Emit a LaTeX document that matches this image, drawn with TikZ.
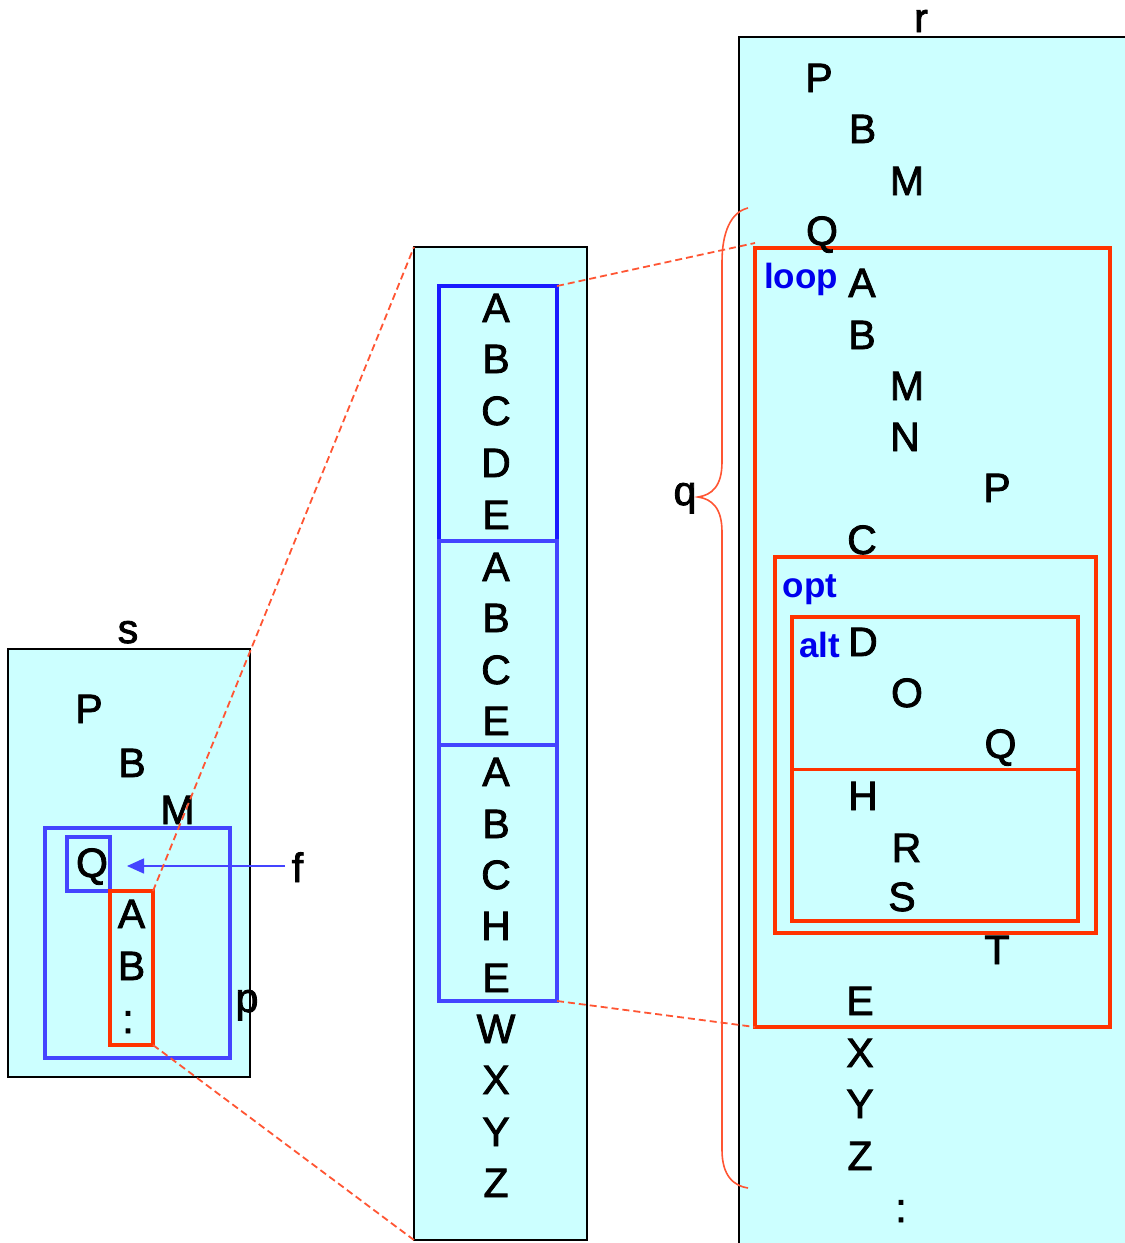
\documentclass[tikz,border=0pt]{standalone}
\usepackage{fontspec}
\setmainfont{Liberation Sans}
\newfontfamily\letterfont[FakeBold=2]{Liberation Sans}
\usetikzlibrary{arrows.meta}
\definecolor{cyanfill}{HTML}{CCFFFF}
\definecolor{redbox}{HTML}{FF3300}
\definecolor{dashred}{HTML}{FF5533}
\definecolor{blueA}{HTML}{1A1AFF}
\definecolor{blueB}{HTML}{4444FF}
\definecolor{labblue}{HTML}{0000EE}
\tikzset{
  letter/.style={anchor=base, inner sep=0pt, font=\letterfont\fontsize{41}{46}\selectfont},
  lab/.style={anchor=base, inner sep=0pt, font=\fontsize{35}{40}\selectfont\bfseries, text=labblue},
  rect/.style={inner sep=0pt, outer sep=0pt},
  lifebox/.style={rect, draw=black, fill=cyanfill, line width=2.5pt},
  bluebox/.style={rect, draw=blueB, line width=3.5pt},
  redframe/.style={rect, draw=redbox, line width=3.8pt},
  zoomline/.style={draw=dashred, line width=1.8pt, dash pattern=on 7pt off 4pt},
}
\begin{document}
\begin{tikzpicture}[x=1pt,y=-1pt]
\useasboundingbox (0,0) rectangle (1125,1243);
% ---- left lifeline s
\node[lifebox, minimum width=242pt, minimum height=428pt] (sbox) at (129,863) {};
\node[letter] (slab) at (128,643) {s};
\node[bluebox, minimum width=185pt, minimum height=230pt] (pbox) at (137.5,943) {};
\node[bluebox, minimum width=43pt, minimum height=54pt] (qbox) at (88.5,864) {};
\node[redframe, minimum width=43pt, minimum height=154pt] (rbx) at (131.5,968) {};
\node[letter] (sP) at (89,723) {P};
\node[letter] (sB) at (132,777) {B};
\node[letter] (sM) at (177.5,824) {M};
\node[letter] (sQ) at (92,877) {Q};
\node[letter] (sA2) at (131.5,928) {A};
\node[letter] (sB2) at (131.5,980) {B};
\node[letter] (sdots) at (128,1033) {:};
\node[letter] (plab) at (247,1012) {p};
\node[letter] (flab) at (297.5,882) {f};
\coordinate (fend) at (127,866);
\draw[blueB, line width=1.5pt, -{Triangle[length=17pt,width=15pt]}] (285,866) -- (fend);
% ---- middle lifeline
\node[lifebox, minimum width=173pt, minimum height=993pt] (mid) at (500.5,743.5) {};
\node[rect, draw=blueA, line width=3.5pt, minimum width=118pt, minimum height=255pt] (b1) at (498,413.5) {};
\node[bluebox, minimum width=118pt, minimum height=204pt] (b2) at (498,643) {};
\node[bluebox, minimum width=118pt, minimum height=256pt] (b3) at (498,873) {};
\foreach \t/\y [count=\i] in {A/322,B/373,C/425,D/477,E/529,A/581,B/632,C/684,E/735,A/786,B/838,C/889,H/940,E/992,W/1043,X/1094,Y/1146,Z/1197}
  \node[letter] (m\i) at (496,\y) {\t};
% ---- right lifeline r
\node[lifebox, minimum width=396pt, minimum height=1218pt] (rbox) at (937,646) {};
\node[letter] (rlab) at (921,32) {r};
\node[redframe, minimum width=355pt, minimum height=779pt] (loop) at (932.5,637.5) {};
\node[redframe, minimum width=321pt, minimum height=376pt] (opt) at (935.5,745) {};
\node[redframe, minimum width=286pt, minimum height=304pt] (alt) at (935,769) {};
\draw[redbox, line width=3pt] (alt.west) -- (alt.east);
\node[lab] (looplab) at (801,288) {loop};
\node[lab] (optlab) at (810,597) {opt};
\node[lab] (altlab) at (819.5,657) {alt};
\node[letter] (rP) at (819,92) {P};
\node[letter] (rB) at (862.5,143) {B};
\node[letter] (rM) at (907,195) {M};
\node[letter] (rQ) at (822,245) {Q};
\node[letter] (rA) at (862,297) {A};
\node[letter] (rB2) at (862,349) {B};
\node[letter] (rM2) at (907,400) {M};
\node[letter] (rN) at (905,451) {N};
\node[letter] (rP2) at (997,502) {P};
\node[letter] (rC) at (862,554) {C};
\node[letter] (rD) at (863,656) {D};
\node[letter] (rO) at (907,707) {O};
\node[letter] (rQ2) at (1000.5,758) {Q};
\node[letter] (rH) at (863,810) {H};
\node[letter] (rR) at (906.5,862) {R};
\node[letter] (rS) at (902,911) {S};
\node[letter] (rT) at (997,964) {T};
\node[letter] (rE) at (860,1015) {E};
\node[letter] (rX) at (860,1067) {X};
\node[letter] (rY) at (860,1118) {Y};
\node[letter] (rZ) at (860,1170) {Z};
\node[letter] (rdots) at (901,1222) {:};
% ---- brace q
\draw[dashred, line width=1.6pt] (748,208) .. controls (731,212) and (722,232) .. (722,262) -- (722,462) .. controls (722,486) and (712,495) .. (698,497) .. controls (712,499) and (722,508) .. (722,532) -- (722,1150) .. controls (722,1176) and (734,1186) .. (748,1188);
\node[letter] (qlab) at (685,505) {q};
% ---- zoom lines
\path[zoomline] (rbx.north east) -- (mid.north west);
\path[zoomline] (rbx.south east) -- (mid.south west);
\path[zoomline] (b1.north east) -- ([yshift=5pt]loop.north west);
\path[zoomline] (b3.south east) -- (loop.south west);
\end{tikzpicture}
\end{document}
